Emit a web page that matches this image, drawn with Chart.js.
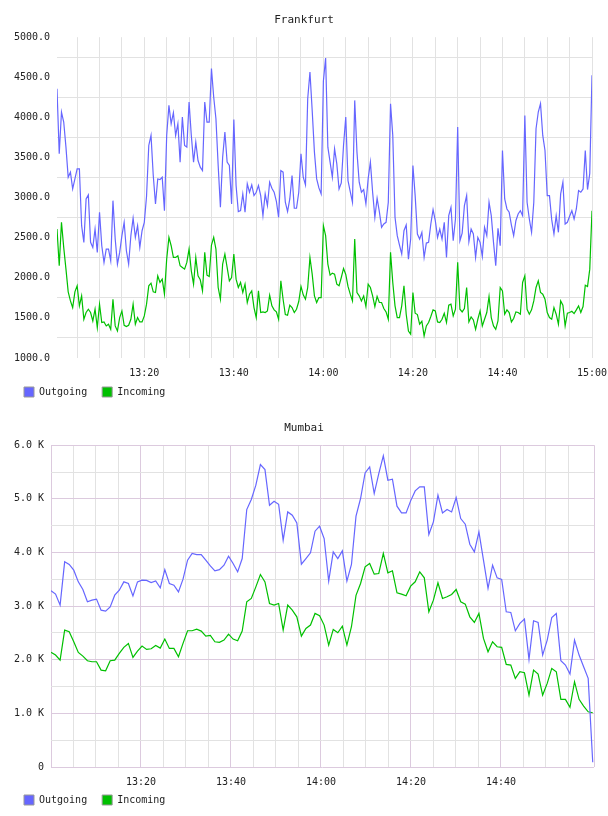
<!DOCTYPE html>
<html>
<head>
<meta charset="utf-8">
<script src="https://cdn.jsdelivr.net/npm/chart.js@4.4.1/dist/chart.umd.min.js"></script>
<style>
  html, body { margin: 0; padding: 0; background: #fff; }
  .box { position: relative; width: 608px; height: 408px; }
</style>
</head>
<body>
<div class="box"><canvas id="frankfurt"></canvas></div>
<div class="box"><canvas id="mumbai"></canvas></div>
<script>
// traffic samples (bytes/s)
const startHour = 13;

// Frankfurt: one sample every 30 s, first one at 13:00:30
const frankfurtFirstMin = 0.5;
const frankfurtStepMin = 0.5;
const frankfurtOutgoing = [
  4358,3546,4067,3942,3629,3254,3317,3108,3233,3358,
  3358,2650,2442,2983,3033,2442,2379,2608,2317,2817,
  2400,2192,2358,2358,2212,2962,2483,2171,2317,2525,
  2692,2337,2171,2525,2742,2504,2650,2379,2587,2692,
  3017,3650,3775,3275,2921,3233,3225,3254,2837,3775,
  4150,3921,4058,3775,3921,3442,4004,3650,3629,4192,
  3775,3442,3692,3462,3379,3337,4192,3942,3942,4608,
  4254,3983,3400,2879,3504,3817,3442,3400,2921,3975,
  3150,2825,2837,3046,2817,3171,3067,3158,3025,3067,
  3150,3025,2775,3046,2900,3192,3117,3067,2954,2754,
  3337,3317,2942,2825,2983,3275,2867,2867,3067,3546,
  3254,3158,4233,4567,4087,3567,3233,3121,3046,4450,
  4740,3629,3442,3254,3608,3421,3108,3183,3650,4004,
  3212,3075,2942,4212,3567,3192,3067,3100,2921,3233,
  3442,3067,2754,2992,2825,2629,2671,2692,2942,4171,
  3775,2754,2525,2408,2296,2587,2658,2233,2483,3400,
  3025,2546,2483,2567,2254,2433,2442,2671,2850,2712,
  2504,2608,2483,2692,2254,2775,2879,2462,2733,3879,
  2462,2558,2900,3025,2450,2608,2546,2254,2504,2442,
  2267,2629,2525,2942,2775,2442,2150,2617,2400,3587,
  2983,2858,2817,2658,2525,2712,2796,2837,2775,4025,
  2942,2733,2567,2942,3858,4067,4171,3775,3587,3025,
  3025,2725,2546,2775,2567,3046,3192,2671,2692,2767,
  2837,2733,2858,3088,3067,3108,3587,3100,3300,4525
];
const frankfurtIncoming = [
  2608,2150,2692,2379,2108,1825,1712,1629,1825,1900,
  1650,1775,1483,1567,1608,1567,1462,1608,1379,1671,
  1442,1450,1400,1421,1358,1733,1400,1337,1504,1587,
  1408,1392,1408,1483,1671,1421,1504,1450,1450,1525,
  1671,1900,1933,1825,1817,2025,1942,1983,1796,2233,
  2504,2400,2254,2254,2275,2150,2129,2108,2192,2358,
  2087,1921,2254,2025,1975,1837,2317,2033,2017,2408,
  2504,2358,1879,1733,2171,2296,2129,1962,2004,2296,
  1983,1879,1942,1817,1921,1692,1796,1837,1629,1504,
  1837,1567,1575,1567,1587,1783,1650,1600,1575,1483,
  1962,1733,1542,1533,1658,1629,1567,1608,1704,1892,
  1787,1733,1879,2254,2046,1775,1692,1754,1754,2650,
  2525,2171,2033,2058,2046,1921,1900,2004,2117,2042,
  1892,1796,1712,2483,1817,1775,1712,1775,1641,1921,
  1879,1775,1641,1767,1692,1692,1617,1575,1483,2317,
  1942,1650,1504,1504,1650,1900,1546,1337,1296,1817,
  1558,1542,1421,1458,1275,1400,1442,1517,1600,1587,
  1450,1442,1483,1558,1442,1658,1671,1525,1608,2192,
  1608,1575,1617,1879,1450,1512,1475,1358,1483,1587,
  1400,1483,1567,1767,1504,1400,1358,1462,1879,1837,
  1546,1600,1567,1450,1492,1575,1567,1546,1942,2025,
  1608,1546,1600,1712,1879,1962,1817,1796,1733,1567,
  1504,1483,1629,1546,1421,1712,1658,1400,1558,1567,
  1583,1554,1600,1650,1567,1642,1908,1892,2108,2837
];

// Mumbai: roughly one sample a minute, first one at 13:00
const mumbaiFirstMin = 0;
const mumbaiStepMin = 60.7 / 60;
const mumbaiOutgoing = [
  3285,3223,3018,3825,3776,3670,3452,3310,3080,3111,
  3130,2925,2906,2986,3204,3297,3452,3421,3191,3452,
  3484,3480,3440,3470,3340,3680,3421,3390,3266,3502,
  3856,3981,3960,3960,3856,3750,3657,3680,3762,3931,
  3794,3639,3887,4800,4987,5254,5639,5546,4881,4955,
  4899,4229,4756,4694,4551,3782,3887,3993,4397,4490,
  4260,3465,4012,3887,4030,3465,3776,4676,5006,5484,
  5596,5099,5472,5801,5347,5366,4863,4738,4738,4962,
  5148,5223,5223,4335,4571,5068,4738,4800,4756,5024,
  4632,4527,4154,4012,4384,3856,3329,3763,3527,3496,
  2894,2882,2540,2677,2757,2006,2726,2695,2087,2366,
  2788,2863,1981,1900,1733,2366,2087,1869,1652,87
];
const mumbaiIncoming = [
  2137,2087,1993,2552,2521,2335,2137,2068,1981,1962,
  1962,1807,1795,1981,1993,2118,2230,2304,2043,2161,
  2254,2192,2205,2267,2217,2385,2211,2211,2056,2304,
  2540,2540,2571,2534,2441,2453,2335,2323,2366,2478,
  2385,2354,2534,3080,3142,3359,3589,3452,3049,3018,
  3049,2552,3018,2925,2800,2441,2584,2646,2863,2819,
  2646,2273,2565,2503,2627,2273,2615,3200,3422,3732,
  3794,3596,3608,3981,3621,3658,3248,3223,3192,3372,
  3453,3639,3527,2894,3111,3434,3142,3173,3217,3310,
  3080,3036,2800,2695,2863,2397,2148,2335,2242,2230,
  1913,1900,1652,1776,1757,1341,1807,1733,1341,1559,
  1838,1776,1261,1261,1112,1590,1261,1137,1030,1012
];

const FONT = 'DejaVu Sans Mono';
const TEXT = '#222';
const BLUE = '#6666ff';
const GREEN = '#00c000';
const GRID = '#e2e2e2';
const GRID_MAJOR = '#dccade';

function clock(min) {
  const h = startHour + Math.floor(min / 60);
  const m = Math.round(min % 60);
  return h + ':' + String(m).padStart(2, '0');
}

function points(values, first, step) {
  return values.map((v, i) => ({ x: first + i * step, y: v }));
}

function range(from, to, step) {
  const out = [];
  for (let v = from; v <= to + 1e-9; v += step) out.push(v);
  return out;
}

function legendLabels(chart) {
  return chart.data.datasets.map((ds, i) => ({
    text: ds.label,
    fillStyle: ds.borderColor,
    strokeStyle: '#999',
    lineWidth: 1,
    fontColor: TEXT,
    hidden: false,
    datasetIndex: i
  }));
}

function makeChart(id, cfg) {
  return new Chart(document.getElementById(id), {
    type: 'line',
    data: {
      datasets: [{
        label: 'Outgoing',
        data: cfg.outgoing,
        borderColor: BLUE,
        backgroundColor: BLUE,
        borderWidth: 1.2,
        pointRadius: 0,
        tension: 0,
        fill: false
      }, {
        label: 'Incoming',
        data: cfg.incoming,
        borderColor: GREEN,
        backgroundColor: GREEN,
        borderWidth: 1.2,
        pointRadius: 0,
        tension: 0,
        fill: false
      }]
    },
    options: {
      responsive: true,
      maintainAspectRatio: false,
      animation: false,
      events: [],
      layout: { padding: { top: 0, left: 9, right: 9, bottom: 1 } },
      plugins: {
        title: {
          display: true,
          text: cfg.title,
          color: TEXT,
          font: { family: FONT, size: 11, weight: 'normal' },
          padding: { top: 14, bottom: 10 }
        },
        legend: {
          position: 'bottom',
          align: 'start',
          labels: {
            font: { family: FONT, size: 10 },
            color: TEXT,
            boxWidth: 10,
            boxHeight: 10,
            padding: 15,
            generateLabels: legendLabels
          }
        },
        tooltip: { enabled: false }
      },
      scales: {
        x: {
          type: 'linear',
          min: cfg.xMin,
          max: cfg.xMax,
          afterBuildTicks: s => { s.ticks = cfg.xTicks.map(v => ({ value: v })); },
          afterFit: s => { s.height = cfg.xHeight; },
          border: { display: false },
          grid: { drawTicks: false, color: c => cfg.xGrid(c.tick.value), lineWidth: 1 },
          ticks: {
            autoSkip: false,
            maxRotation: 0,
            // mirrored with a negative padding: the labels sit below the plot
            // without being clipped to the short axis box
            mirror: true,
            padding: -21,
            color: TEXT,
            font: { family: FONT, size: 10 },
            callback: v => (v > 0 && v % 20 === 0) ? clock(v) : ''
          }
        },
        y: {
          type: 'linear',
          min: cfg.yMin,
          max: cfg.yMax,
          afterBuildTicks: s => { s.ticks = cfg.yTicks.map(v => ({ value: v })); },
          afterFit: s => { s.width = cfg.yWidth; },
          border: { display: false },
          grid: { drawTicks: false, color: c => cfg.yGrid(c.tick.value), lineWidth: 1 },
          ticks: {
            autoSkip: false,
            padding: 7,
            color: TEXT,
            font: { family: FONT, size: 10 },
            callback: cfg.yLabel
          }
        },
        // empty right-hand axis, only keeps the plot clear of the right edge
        spacer: {
          type: 'linear',
          position: 'right',
          display: true,
          afterFit: s => { s.width = cfg.rightGap; },
          border: { display: false },
          grid: { display: false },
          ticks: { display: false }
        }
      }
    }
  });
}

makeChart('frankfurt', {
  title: 'Frankfurt',
  outgoing: points(frankfurtOutgoing, frankfurtFirstMin, frankfurtStepMin),
  incoming: points(frankfurtIncoming, frankfurtFirstMin, frankfurtStepMin),
  xMin: 0.5, xMax: 120,
  xTicks: range(5, 120, 5),
  xGrid: () => GRID,
  xHeight: 14,
  yMin: 1000, yMax: 5000,
  yTicks: range(1000, 5000, 250),
  yGrid: v => (v % 500 === 250 ? GRID : 'rgba(0,0,0,0)'),
  yLabel: v => (v % 500 === 0 ? v.toFixed(1) : ''),
  yWidth: 48,
  rightGap: 7
});

makeChart('mumbai', {
  title: 'Mumbai',
  outgoing: points(mumbaiOutgoing, mumbaiFirstMin, mumbaiStepMin),
  incoming: points(mumbaiIncoming, mumbaiFirstMin, mumbaiStepMin),
  xMin: 0, xMax: 120.67,
  xTicks: range(0, 115, 5).concat([120.67]),
  xGrid: v => (v % 20 === 0 || v > 120 ? GRID_MAJOR : GRID),
  xHeight: 13,
  yMin: 0, yMax: 6000,
  yTicks: range(0, 6000, 500),
  yGrid: v => (v % 1000 === 0 ? GRID_MAJOR : GRID),
  yLabel: v => (v % 1000 !== 0 ? '' : v === 0 ? '0' : (v / 1000).toFixed(1) + ' K'),
  yWidth: 42,
  rightGap: 5
});
</script>
</body>
</html>
